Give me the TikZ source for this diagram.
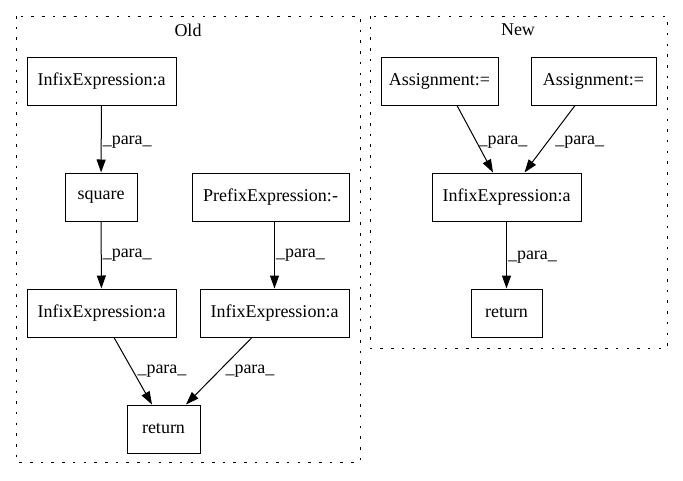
\documentclass[tikz,border=0pt]{standalone}
\usepackage{fontspec}
\setmainfont{Liberation Serif}
\usetikzlibrary{arrows.meta,calc}
\begin{document}
\begin{tikzpicture}[x=1pt,y=-1pt,
  every node/.style={font=\fontsize{18}{20}\selectfont},
  box/.style={draw,line width=1pt,minimum height=48pt,inner sep=0pt},
  cluster/.style={draw,line width=1pt,dash pattern=on 2.5pt off 8.2pt},
  edge/.style={draw,line width=1pt,-{Triangle[length=13pt,width=9pt]}},
  lbl/.style={anchor=west,inner sep=0pt,font=\fontsize{18}{20}\selectfont}]
\useasboundingbox (0,0) rectangle (683,480);

% clusters
\draw[cluster] (16,16) rectangle (360,462);
\node (oldtitle) at (188,30) {Old};
\draw[cluster] (370,16) rectangle (667,348);
\node (newtitle) at (518,30) {New};

% Old graph
\node[box,minimum width=149pt] (it) at (101.5,81) {InfixExpression:a};
\node[box,minimum width=72pt] (sq) at (101,197) {square};
\node[box,minimum width=157pt] (pe) at (270.5,197) {PrefixExpression:-};
\node[box,minimum width=149pt] (il) at (101.5,313) {InfixExpression:a};
\node[box,minimum width=149pt] (ir) at (274.5,313) {InfixExpression:a};
\node[box,minimum width=73pt] (ret) at (163.5,429) {return};

\draw[edge] (it) -- (sq) node[lbl,pos=0.5,xshift=1pt,yshift=-3pt] {\_para\_};
\draw[edge] (sq) -- (il) node[lbl,pos=0.5,xshift=1pt] {\_para\_};
\draw[edge] (pe.south -| ir) -- (ir) node[lbl,pos=0.5,xshift=1pt] {\_para\_};
\draw[edge] ($(il.south)+(12.5,0)$) -- ($(ret.north)+(-11.5,0)$)
  node[lbl,pos=0.5,xshift=4pt] {\_para\_};
\draw[edge] ($(ir.south)+(-22.5,0)$) -- ($(ret.north)+(22.5,0)$)
  node[lbl,pos=0.5,xshift=6pt] {\_para\_};

% New graph
\node[box,minimum width=117pt] (al) at (439.5,81) {Assignment:=};
\node[box,minimum width=125pt] (ar) at (593.5,81) {Assignment:=};
\node[box,minimum width=149pt] (ni) at (506.5,197) {InfixExpression:a};
\node[box,minimum width=71pt] (nr) at (506.5,313) {return};

\draw[edge] ($(al.south)+(17.5,0)$) -- ($(ni.north)+(-13.5,0)$)
  node[lbl,pos=0.5,xshift=3pt,yshift=-3pt] {\_para\_};
\draw[edge] ($(ar.south)+(-18.5,0)$) -- ($(ni.north)+(18,0)$)
  node[lbl,pos=0.5,xshift=5pt,yshift=-3pt] {\_para\_};
\draw[edge] (ni) -- (nr) node[lbl,pos=0.5,xshift=1pt,yshift=-2pt] {\_para\_};
\end{tikzpicture}
\end{document}
